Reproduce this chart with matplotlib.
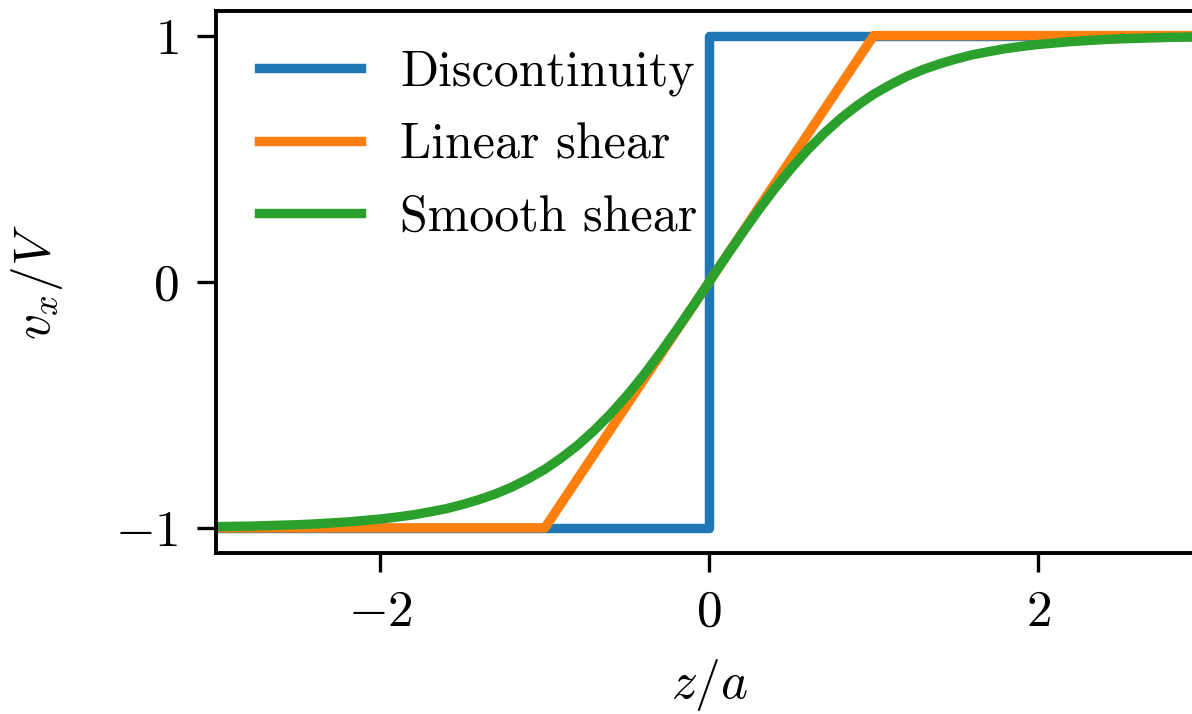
import matplotlib
matplotlib.use("Agg")
import matplotlib.pyplot as plt

plt.rcParams.update({
    "font.family": "serif",
    "font.serif": ["cmr10"],
    "mathtext.fontset": "cm",
    "axes.formatter.use_mathtext": True,
    "axes.unicode_minus": True,
})

# Velocity profiles v_x/V against z/a
z_step = [-3.0, 0.0, 0.0, 3.0]
v_step = [-1.0, -1.0, 1.0, 1.0]

z_linear = [-3.0, -1.0, 1.0, 3.0]
v_linear = [-1.0, -1.0, 1.0, 1.0]

z_smooth = [-3.0, -2.9, -2.8, -2.7, -2.6, -2.5, -2.4, -2.3, -2.2, -2.1,
            -2.0, -1.9, -1.8, -1.7, -1.6, -1.5, -1.4, -1.3, -1.2, -1.1,
            -1.0, -0.9, -0.8, -0.7, -0.6, -0.5, -0.4, -0.3, -0.2, -0.1,
            0.0, 0.1, 0.2, 0.3, 0.4, 0.5, 0.6, 0.7, 0.8, 0.9,
            1.0, 1.1, 1.2, 1.3, 1.4, 1.5, 1.6, 1.7, 1.8, 1.9,
            2.0, 2.1, 2.2, 2.3, 2.4, 2.5, 2.6, 2.7, 2.8, 2.9, 3.0]
v_smooth = [-0.995, -0.994, -0.993, -0.991, -0.989, -0.987, -0.984, -0.980, -0.976, -0.970,
            -0.964, -0.956, -0.947, -0.935, -0.922, -0.905, -0.885, -0.862, -0.834, -0.800,
            -0.762, -0.716, -0.664, -0.604, -0.537, -0.462, -0.380, -0.291, -0.197, -0.100,
            0.0, 0.100, 0.197, 0.291, 0.380, 0.462, 0.537, 0.604, 0.664, 0.716,
            0.762, 0.800, 0.834, 0.862, 0.885, 0.905, 0.922, 0.935, 0.947, 0.956,
            0.964, 0.970, 0.976, 0.980, 0.984, 0.987, 0.989, 0.991, 0.993, 0.994, 0.995]

labels = ["Discontinuity", "Linear shear", "Smooth shear"]
colors = ["#1f77b4", "#ff7f0e", "#2ca02c"]

W, H = 1192, 714
fig = plt.figure(figsize=(W / 100, H / 100), dpi=100)
left, right, top, bottom = 216, 1202.5, 11, 552.5
ax = fig.add_axes([left / W, 1 - bottom / H, (right - left) / W, (bottom - top) / H])

lw = 6.8
ax.plot(z_step, v_step, color=colors[0], lw=lw, label=labels[0])
ax.plot(z_linear, v_linear, color=colors[1], lw=lw, label=labels[1])
ax.plot(z_smooth, v_smooth, color=colors[2], lw=lw, label=labels[2])

ax.set_xlim(-3, 3)
ax.set_ylim(-1.1, 1.1)
ax.set_xticks([-2, 0, 2])
ax.set_yticks([-1, 0, 1])

for s in ax.spines.values():
    s.set_linewidth(2.8)
ax.tick_params(length=14, width=2.4, labelsize=37)
ax.tick_params(axis="x", pad=13)
ax.tick_params(axis="y", pad=13)

ax.set_xlabel(r"$z/a$", fontsize=37, labelpad=15)
ax.set_ylabel(r"$v_x/V$", fontsize=37, labelpad=36)

leg = ax.legend(loc="upper left", bbox_to_anchor=(0.023, 0.966), frameon=False,
                fontsize=36, handlelength=2.05, handletextpad=0.78,
                borderaxespad=0.0, labelspacing=0.53)

fig.savefig("out.png", dpi=100)
